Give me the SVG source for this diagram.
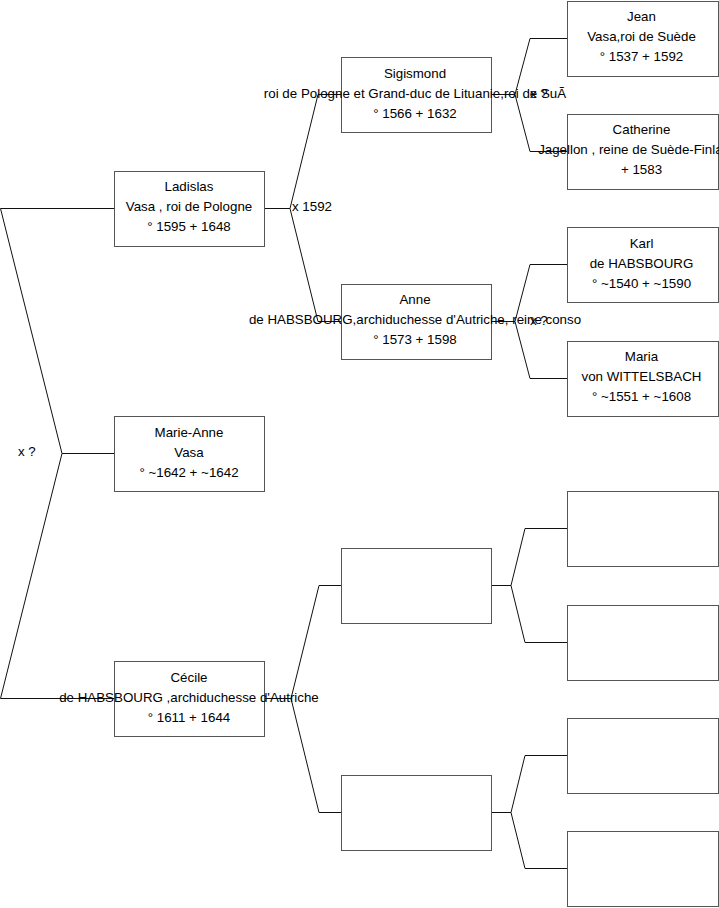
<svg xmlns="http://www.w3.org/2000/svg" width="719" height="908" viewBox="0 0 719 908">
<style>
rect.box{fill:#fff;stroke:#555;stroke-width:1}
.links path{fill:none;stroke:#111;stroke-width:1}
text{font-family:"Liberation Sans",Arial,sans-serif;font-size:13.33px;fill:#000}
text.c{text-anchor:middle}
</style>
<rect width="719" height="908" fill="#fff"/>
<g class="links">
<path d="M0.5,208.5H114 M0.5,208.5L62,453.5L0.5,698.5H114 M62,453.5H114"/>
<path d="M264,208.5H290 M318,94.5L290,208.5L318,321.5 M318,94.5H341 M318,321.5H341"/>
<path d="M264,698.5H291 M319,585.5L291,698.5L319,812.5 M319,585.5H341 M319,812.5H341"/>
<path d="M491,94.5H515 M530,38.5L515,94.5L530,151.5 M530,38.5H567 M530,151.5H567"/>
<path d="M491,321.5H515 M530,264.5L515,321.5L530,378.5 M530,264.5H567 M530,378.5H567"/>
<path d="M491,585.5H511 M525,528.5L511,585.5L525,642.5 M525,528.5H567 M525,642.5H567"/>
<path d="M491,812.5H511 M525,755.5L511,812.5L525,868.5 M525,755.5H567 M525,868.5H567"/>
</g>
<g id="ladislas"><rect class="box" x="114.5" y="171.5" width="150" height="75"/>
<text class="c" x="189" y="191">Ladislas</text><text class="c" x="189" y="211">Vasa , roi de Pologne</text><text class="c" x="189" y="231">° 1595 + 1648</text></g>
<g id="marie-anne"><rect class="box" x="114.5" y="416.5" width="150" height="75"/>
<text class="c" x="189" y="437">Marie-Anne</text><text class="c" x="189" y="457">Vasa</text><text class="c" x="189" y="477">° ~1642 + ~1642</text></g>
<g id="cecile"><rect class="box" x="114.5" y="661.5" width="150" height="75"/>
<text class="c" x="189" y="682">Cécile</text><text class="c" x="189" y="702">de HABSBOURG ,archiduchesse d'Autriche</text><text class="c" x="189" y="722">° 1611 + 1644</text></g>
<g id="sigismond"><rect class="box" x="341.5" y="57.5" width="150" height="75"/>
<text class="c" x="415" y="78">Sigismond</text><text class="c" x="415" y="98">roi de Pologne et Grand-duc de Lituanie,roi de SuÃ</text><text class="c" x="415" y="118">° 1566 + 1632</text></g>
<g id="anne"><rect class="box" x="341.5" y="284.5" width="150" height="75"/>
<text class="c" x="415" y="304">Anne</text><text class="c" x="415" y="324">de HABSBOURG,archiduchesse d'Autriche, reine conso</text><text class="c" x="415" y="344">° 1573 + 1598</text></g>
<g id="empty-2a"><rect class="box" x="341.5" y="548.5" width="150" height="75"/></g>
<g id="empty-2b"><rect class="box" x="341.5" y="775.5" width="150" height="75"/></g>
<g id="jean"><rect class="box" x="567.5" y="1.5" width="151" height="75"/>
<text class="c" x="641.5" y="21">Jean</text><text class="c" x="641.5" y="41">Vasa,roi de Suède</text><text class="c" x="641.5" y="61">° 1537 + 1592</text></g>
<g id="catherine"><rect class="box" x="567.5" y="114.5" width="151" height="75"/>
<text class="c" x="641.5" y="134">Catherine</text><text class="c" x="641.5" y="154">Jagellon , reine de Suède-Finlande</text><text class="c" x="641.5" y="174">+ 1583</text></g>
<g id="karl"><rect class="box" x="567.5" y="227.5" width="151" height="75"/>
<text class="c" x="641.5" y="248">Karl</text><text class="c" x="641.5" y="268">de HABSBOURG</text><text class="c" x="641.5" y="288">° ~1540 + ~1590</text></g>
<g id="maria"><rect class="box" x="567.5" y="341.5" width="151" height="75"/>
<text class="c" x="641.5" y="361">Maria</text><text class="c" x="641.5" y="381">von WITTELSBACH</text><text class="c" x="641.5" y="401">° ~1551 + ~1608</text></g>
<g id="empty-3a"><rect class="box" x="567.5" y="491.5" width="151" height="75"/></g>
<g id="empty-3b"><rect class="box" x="567.5" y="605.5" width="151" height="75"/></g>
<g id="empty-3c"><rect class="box" x="567.5" y="718.5" width="151" height="75"/></g>
<g id="empty-3d"><rect class="box" x="567.5" y="831.5" width="151" height="75"/></g>
<g id="labels">
<text x="18" y="456">x ?</text>
<text x="292" y="211">x 1592</text>
<text x="530" y="98">x ?</text>
<text x="530" y="325">x ?</text>
</g>
</svg>
